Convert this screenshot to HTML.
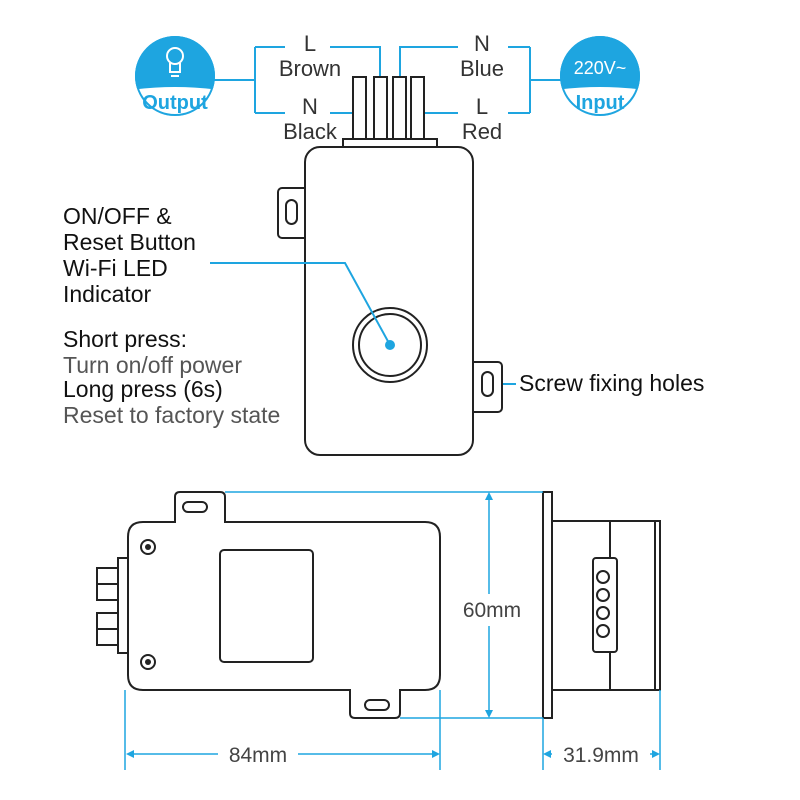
<!DOCTYPE html>
<html><head><meta charset="utf-8"><style>
html,body{margin:0;padding:0;background:#fff;width:800px;height:800px;overflow:hidden}
svg{display:block}
text{font-family:"Liberation Sans",sans-serif}
</style></head><body>
<svg width="800" height="800" viewBox="0 0 800 800" xmlns="http://www.w3.org/2000/svg">
<defs><clipPath id="c1"><circle cx="175" cy="76" r="40"/></clipPath><clipPath id="c2"><circle cx="600" cy="76" r="40"/></clipPath></defs>
<g clip-path="url(#c1)"><rect x="130" y="30" width="90" height="100" fill="#1ea5e0"/><path d="M130,90 Q175,84 220,90 L220,130 L130,130Z" fill="#fff"/></g>
<circle cx="175" cy="76" r="39" fill="none" stroke="#1ea5e0" stroke-width="2"/>
<g fill="none" stroke="#fff" stroke-width="2"><circle cx="175" cy="56" r="8"/><path d="M170,63 L170,72 L180,72 L180,63 M171,76 L179,76"/></g>
<text x="175" y="109" font-size="20" font-weight="bold" fill="#1ea5e0" text-anchor="middle">Output</text>
<g clip-path="url(#c2)"><rect x="555" y="30" width="90" height="100" fill="#1ea5e0"/><path d="M555,90 Q600,84 645,90 L645,130 L555,130Z" fill="#fff"/></g>
<circle cx="600" cy="76" r="39" fill="none" stroke="#1ea5e0" stroke-width="2"/>
<text x="600" y="74" font-size="18" fill="#fff" text-anchor="middle">220V~</text>
<text x="600" y="109" font-size="20" font-weight="bold" fill="#1ea5e0" text-anchor="middle">Input</text>
<g fill="none" stroke="#1ea5e0" stroke-width="2">
<path d="M214,80 H255 M255,47 V113 M255,47 H285 M330,47 H380 V78 M255,113 H285 M330,113 H360"/>
<path d="M562,80 H530 M530,47 V113 M530,47 H508 M458,47 H400 V78 M530,113 H508 M458,113 H425"/>
<path d="M500,384 H516"/>
</g>
<g font-size="22" fill="#333" text-anchor="middle">
<text x="310" y="51">L</text><text x="310" y="76">Brown</text>
<text x="310" y="114">N</text><text x="310" y="139">Black</text>
<text x="482" y="51">N</text><text x="482" y="76">Blue</text>
<text x="482" y="114">L</text><text x="482" y="139">Red</text>
</g>
<g fill="#fff" stroke="#222" stroke-width="2">
<rect x="353" y="77" width="13" height="62"/><rect x="374" y="77" width="13" height="62"/><rect x="393" y="77" width="13" height="62"/><rect x="411" y="77" width="13" height="62"/>
<rect x="343" y="139" width="94" height="8"/>
<rect x="278" y="188" width="30" height="50" rx="4"/>
<rect x="470" y="362" width="32" height="50" rx="4"/>
<rect x="305" y="147" width="168" height="308" rx="15"/>
<rect x="286" y="200" width="11" height="24" rx="5.5"/>
<rect x="482" y="372" width="11" height="24" rx="5.5"/>
<circle cx="390" cy="345" r="37"/><circle cx="390" cy="345" r="31"/>
</g>
<path d="M210,263 H345 L390,345" fill="none" stroke="#1ea5e0" stroke-width="2"/>
<circle cx="390" cy="345" r="5" fill="#1ea5e0"/>
<g font-size="23" fill="#111">
<text x="63" y="224">ON/OFF &amp;</text><text x="63" y="250">Reset Button</text><text x="63" y="276">Wi-Fi LED</text><text x="63" y="302">Indicator</text>
<text x="63" y="347">Short press:</text><text x="63" y="397">Long press (6s)</text>
<text x="519" y="391">Screw fixing holes</text>
</g>
<g font-size="23" fill="#555"><text x="63" y="373">Turn on/off power</text><text x="63" y="423">Reset to factory state</text></g>
<g fill="#fff" stroke="#222" stroke-width="2">
<rect x="97" y="568" width="22" height="16"/><rect x="97" y="584" width="22" height="16"/>
<rect x="97" y="613" width="22" height="16"/><rect x="97" y="629" width="22" height="16"/>
<rect x="118" y="558" width="10" height="95"/>
<path d="M165,522 H175 V497 Q175,492 180,492 H220 Q225,492 225,497 V522 H425 Q440,522 440,537 V675 Q440,690 425,690 H400 V713 Q400,718 395,718 H355 Q350,718 350,713 V690 H143 Q128,690 128,675 V537 Q128,522 143,522Z"/>
<rect x="183" y="502" width="24" height="10" rx="5"/>
<rect x="365" y="700" width="24" height="10" rx="5"/>
<rect x="220" y="550" width="93" height="112" rx="4"/>
<circle cx="148" cy="547" r="7"/><circle cx="148" cy="662" r="7"/>
<rect x="543" y="492" width="9" height="226"/>
<rect x="552" y="521" width="103" height="169"/>
<rect x="655" y="521" width="5" height="169"/>
<line x1="610" y1="521" x2="610" y2="690"/>
<rect x="593" y="558" width="24" height="94" rx="3"/>
<circle cx="603" cy="577" r="6"/><circle cx="603" cy="595" r="6"/><circle cx="603" cy="613" r="6"/><circle cx="603" cy="631" r="6"/>
</g>
<circle cx="148" cy="547" r="3" fill="#222"/><circle cx="148" cy="662" r="3" fill="#222"/>
<g stroke="#1ea5e0" stroke-width="1.5" fill="none">
<path d="M225,492 H543 M400,718 H543 M489,495 V594 M489,626 V715"/>
<path d="M125,690 V770 M440,690 V770 M543,718 V770 M660,690 V770"/>
<path d="M130,754 H218 M298,754 H438 M545,754 H552 M650,754 H658"/>
</g>
<g fill="#1ea5e0">
<path d="M489,492 l-4,8 h8z M489,718 l-4,-8 h8z"/>
<path d="M126,754 l8,-4 v8z M440,754 l-8,-4 v8z M543,754 l8,-4 v8z M660,754 l-8,-4 v8z"/>
</g>
<g font-size="21" fill="#444" text-anchor="middle">
<text x="492" y="617">60mm</text><text x="258" y="762">84mm</text><text x="601" y="762">31.9mm</text>
</g>
</svg>
</body></html>
